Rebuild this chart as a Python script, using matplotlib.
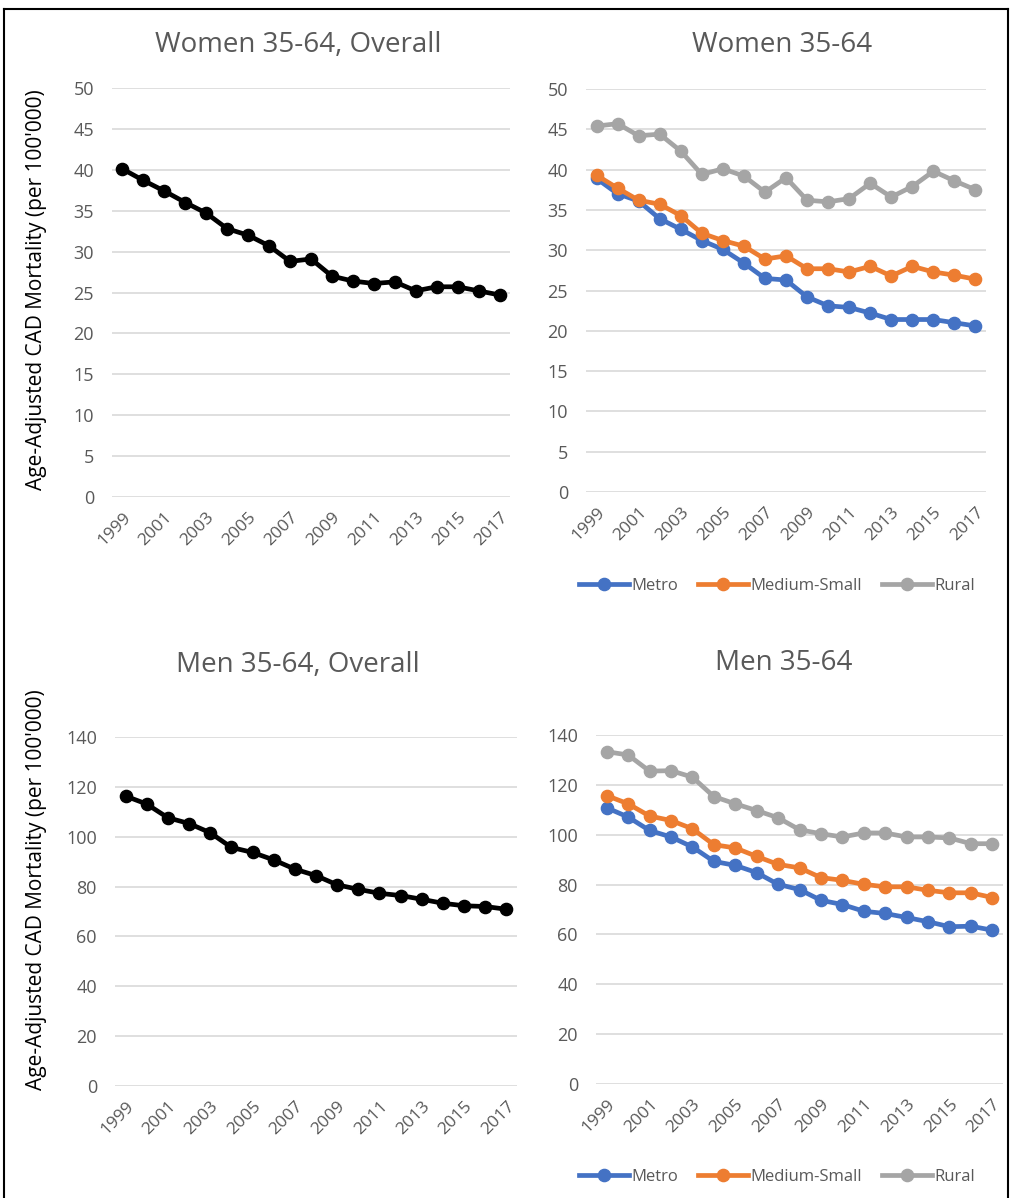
import matplotlib
matplotlib.use("Agg")
import matplotlib.pyplot as plt
from matplotlib.lines import Line2D
import numpy as np

years = list(range(1999, 2018))

women_overall = [40.1, 38.7, 37.4, 36.0, 34.7, 32.8, 32.0, 30.7, 28.8, 29.1, 27.0,
                 26.4, 26.1, 26.3, 25.2, 25.7, 25.7, 25.2, 24.7]
women_metro = [38.9, 37.0, 36.1, 33.9, 32.6, 31.2, 30.1, 28.4, 26.5, 26.3, 24.2,
               23.1, 22.9, 22.2, 21.4, 21.4, 21.4, 21.0, 20.6]
women_medium = [39.3, 37.7, 36.2, 35.7, 34.3, 32.1, 31.2, 30.5, 28.9, 29.3, 27.7,
                27.7, 27.3, 28.0, 26.8, 28.0, 27.3, 26.9, 26.4]
women_rural = [45.4, 45.7, 44.2, 44.4, 42.3, 39.4, 40.1, 39.2, 37.2, 39.0, 36.2,
               36.0, 36.4, 38.3, 36.6, 37.9, 39.8, 38.6, 37.5]

men_overall = [116.3, 113.1, 107.6, 105.3, 101.6, 95.7, 93.7, 90.7, 87.0, 84.4, 80.7,
               78.9, 77.3, 76.4, 74.9, 73.3, 72.3, 72.0, 70.9]
men_metro = [110.8, 107.1, 101.7, 99.1, 95.1, 89.3, 87.7, 84.8, 80.1, 78.0, 73.7,
             72.0, 69.3, 68.4, 66.8, 65.1, 63.1, 63.3, 61.7]
men_medium = [115.7, 112.4, 107.5, 105.7, 102.4, 96.0, 94.7, 91.3, 88.1, 86.7, 82.8,
              81.7, 80.1, 79.1, 79.1, 77.7, 76.7, 76.7, 74.8]
men_rural = [133.3, 132.0, 125.5, 125.7, 123.1, 115.3, 112.4, 109.7, 106.8, 102.0, 100.4,
             99.1, 100.7, 100.7, 99.1, 99.1, 98.7, 96.4, 96.4]

series_names = ["Metro", "Medium-Small", "Rural"]
colors = ["#4472C4", "#ED7D31", "#A5A5A5"]
text_col = "#595959"

plt.rcParams['font.family'] = ['Open Sans', 'DejaVu Sans']

W, H = 1011, 1198
fig = plt.figure(figsize=(W / 100, H / 100), dpi=100)


def px_axes(x0, x1, ytop, ybot):
    return fig.add_axes([x0 / W, 1 - ybot / H, (x1 - x0) / W, (ybot - ytop) / H])


def style(ax, ymax, step):
    x = np.arange(len(years))
    ax.set_xlim(-0.5, len(years) - 0.5)
    ax.set_ylim(0, ymax)
    ax.set_yticks(np.arange(0, ymax + 1, step))
    ax.set_xticks(x[::2])
    ax.set_xticklabels([str(y) for y in years[::2]], rotation=45,
                       ha="right", va="top", rotation_mode="anchor")
    for s in ax.spines.values():
        s.set_visible(False)
    ax.grid(axis="y", color="#D9D9D9", linewidth=1.2)
    ax.set_axisbelow(True)
    ax.tick_params(length=0, labelsize=12.5, colors=text_col, pad=9)
    ax.tick_params(axis="y", labelsize=13, pad=13)


def draw(ax, vals, color):
    ax.plot(np.arange(len(years)), vals, color=color, lw=3.4, marker="o",
            markersize=8.8, solid_capstyle="round")


ax1 = px_axes(112, 510, 88, 497)
draw(ax1, women_overall, "black")
style(ax1, 50, 5)

ax2 = px_axes(586, 986, 89, 492)
for vals, c in zip([women_metro, women_medium, women_rural], colors):
    draw(ax2, vals, c)
style(ax2, 50, 5)

ax3 = px_axes(115, 517, 737, 1086)
draw(ax3, men_overall, "black")
style(ax3, 140, 20)

ax4 = px_axes(596, 1003, 735, 1084)
for vals, c in zip([men_metro, men_medium, men_rural], colors):
    draw(ax4, vals, c)
style(ax4, 140, 20)

titles = [("Women 35-64, Overall", 298, 45), ("Women 35-64", 782, 45),
          ("Men 35-64, Overall", 298, 665), ("Men 35-64", 784, 663)]
for t, x, y in titles:
    fig.text(x / W, 1 - y / H, t, ha="center", va="center", fontsize=20, color=text_col)

ylab = "Age-Adjusted CAD Mortality (per 100'000)"
for y in (290, 890):
    fig.text(37 / W, 1 - y / H, ylab, rotation=90, ha="center", va="center",
             fontsize=15, color="black")

handles = [Line2D([0], [0], color=c, lw=3.4, marker="o", markersize=8.8) for c in colors]
for y in (586, 1177):
    fig.legend(handles, series_names, loc="center", bbox_to_anchor=(777 / W, 1 - y / H),
               ncol=3, frameon=False, fontsize=12, handlelength=3.0, handletextpad=0.15,
               columnspacing=1.2, labelcolor=text_col)

# outer frame
fig.add_artist(Line2D([4 / W, 4 / W], [0, 1 - 9 / H], color="black", lw=1.5))
fig.add_artist(Line2D([4 / W, 1008 / W], [1 - 9 / H, 1 - 9 / H], color="black", lw=1.5))
fig.add_artist(Line2D([1008 / W, 1008 / W], [0, 1 - 9 / H], color="black", lw=1.5))

fig.savefig("out.png", dpi=100, facecolor="white")
